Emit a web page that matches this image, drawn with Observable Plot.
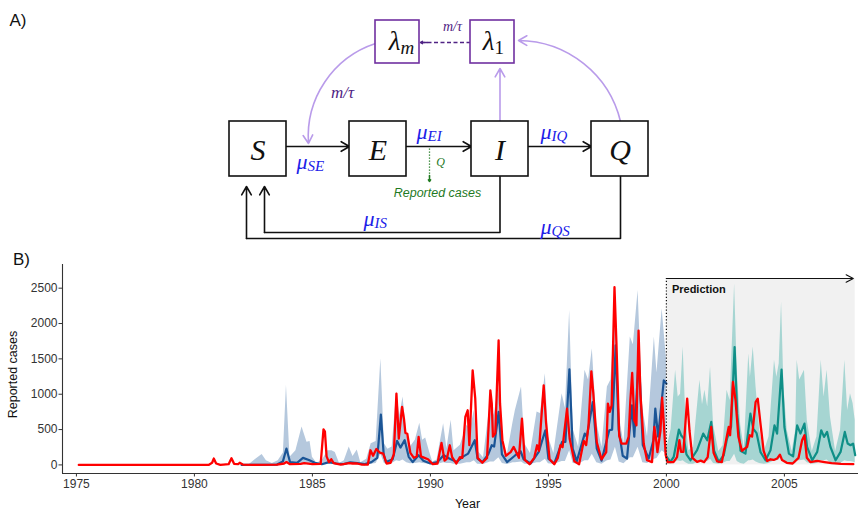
<!DOCTYPE html>
<html><head><meta charset="utf-8">
<script src="https://cdn.jsdelivr.net/npm/d3@7"></script>
<script src="https://cdn.jsdelivr.net/npm/@observablehq/plot@0.6"></script>
<style>
body{margin:0;background:#fff;}
#fig{width:858px;height:510px;}
#fig svg{display:block;}
</style></head><body><div id="fig"></div>
<script>
// ================= Panel A: model diagram content =================
const compartments = ["S", "E", "I", "Q"];
const lagStages = [{main: "λ", sub: "m"}, {main: "λ", sub: "1"}];
const rates = [
  {key: "SE", main: "μ", sub: "SE"},
  {key: "EI", main: "μ", sub: "EI"},
  {key: "IQ", main: "μ", sub: "IQ"},
  {key: "IS", main: "μ", sub: "IS"},
  {key: "QS", main: "μ", sub: "QS"}
];
const transferLabel = "m/τ";
const reportLabel = "Reported cases";
const reportRate = "Q";

// ================= Panel B: time series =================
const xTicks = [1975, 1980, 1985, 1990, 1995, 2000, 2005];
const yTicks = [0, 500, 1000, 1500, 2000, 2500];

// observed reported cases [year, cases]
const reported = [
[1975.1,0],[1980.6,0],[1980.75,30],[1980.82,90],[1980.92,20],[1981.1,0],[1981.45,10],[1981.57,95],[1981.68,15],[1981.85,10],[1981.92,30],[1982.05,5],[1982.5,0],[1983.5,5],[1983.8,20],[1983.9,40],[1984.05,10],[1984.5,15],[1984.65,25],[1985.0,10],[1985.35,15],[1985.42,300],[1985.47,504],[1985.53,470],[1985.6,120],[1985.7,40],[1985.8,80],[1985.9,25],[1986.2,5],[1986.55,25],[1986.7,20],[1986.9,20],[1987.1,5],[1987.35,5],[1987.46,207],[1987.57,130],[1987.71,226],[1987.85,175],[1988.0,160],[1988.14,20],[1988.31,30],[1988.45,150],[1988.56,1008],[1988.66,372],[1988.8,820],[1988.88,650],[1988.94,452],[1989.02,440],[1989.15,170],[1989.3,100],[1989.42,120],[1989.5,396],[1989.6,120],[1989.75,100],[1989.9,80],[1990.1,10],[1990.3,20],[1990.47,311],[1990.6,60],[1990.7,90],[1990.82,278],[1990.92,110],[1991.1,20],[1991.25,110],[1991.35,100],[1991.48,678],[1991.58,773],[1991.65,280],[1991.79,1337],[1991.9,937],[1992.0,100],[1992.2,30],[1992.4,100],[1992.54,1055],[1992.6,870],[1992.65,400],[1992.75,450],[1992.89,1761],[1992.95,870],[1993.05,350],[1993.2,130],[1993.4,180],[1993.53,254],[1993.75,100],[1993.88,655],[1994.0,70],[1994.2,10],[1994.4,100],[1994.52,278],[1994.6,200],[1994.8,1126],[1994.9,600],[1995.05,80],[1995.25,10],[1995.4,100],[1995.51,278],[1995.6,250],[1995.79,797],[1995.9,370],[1996.1,50],[1996.3,10],[1996.5,340],[1996.6,280],[1996.7,560],[1996.82,1323],[1996.9,1025],[1997.05,320],[1997.25,80],[1997.45,180],[1997.52,867],[1997.6,750],[1997.68,843],[1997.8,2514],[1997.88,1750],[1998.0,410],[1998.1,300],[1998.3,300],[1998.4,396],[1998.47,900],[1998.55,1300],[1998.64,630],[1998.73,560],[1998.82,1900],[1998.9,1000],[1999.04,300],[1999.18,66],[1999.39,40],[1999.49,537],[1999.55,400],[1999.62,180],[1999.75,490],[1999.82,950],[1999.9,530],[1999.97,140],[2000.05,40],[2000.3,40],[2000.45,110],[2000.55,349],[2000.62,184],[2000.72,184],[2000.88,937],[2000.98,480],[2001.1,100],[2001.3,43],[2001.45,60],[2001.6,40],[2001.75,110],[2001.9,537],[2002.0,170],[2002.15,50],[2002.35,40],[2002.57,420],[2002.64,537],[2002.7,420],[2002.82,1173],[2002.93,914],[2003.05,400],[2003.2,200],[2003.42,255],[2003.53,420],[2003.63,400],[2003.78,890],[2003.87,937],[2003.98,600],[2004.12,200],[2004.27,55],[2004.41,80],[2004.55,70],[2004.69,90],[2004.81,146],[2004.9,70],[2005.1,30],[2005.35,20],[2005.6,100],[2005.75,349],[2005.85,420],[2005.95,100],[2006.1,40],[2006.39,57],[2006.7,40],[2007.0,25],[2007.4,15],[2007.92,10]
];

// fitted model median [year, cases]
const fitMedian = [
[1982.0,0],[1983.5,5],[1983.75,50],[1983.9,231],[1984.05,40],[1984.35,30],[1984.6,100],[1984.85,70],[1985.1,30],[1985.4,10],[1985.7,40],[1986.0,20],[1986.3,10],[1986.6,35],[1986.9,25],[1987.2,10],[1987.5,40],[1987.75,100],[1987.9,712],[1988.02,150],[1988.12,40],[1988.4,80],[1988.59,340],[1988.73,245],[1988.91,350],[1989.08,114],[1989.25,40],[1989.5,137],[1989.7,60],[1990.0,20],[1990.3,40],[1990.56,137],[1990.8,90],[1991.1,43],[1991.4,120],[1991.6,160],[1991.88,349],[1992.0,90],[1992.2,40],[1992.45,150],[1992.6,278],[1992.7,260],[1992.89,749],[1993.03,150],[1993.25,40],[1993.6,137],[1993.82,193],[1993.95,80],[1994.25,20],[1994.59,184],[1994.87,490],[1995.0,90],[1995.25,20],[1995.58,325],[1995.72,325],[1995.89,1352],[1996.03,230],[1996.2,50],[1996.54,443],[1996.63,400],[1996.88,890],[1997.05,230],[1997.25,60],[1997.58,490],[1997.7,500],[1997.85,1691],[1997.98,500],[1998.15,130],[1998.33,90],[1998.54,843],[1998.64,400],[1998.83,1526],[1999.0,280],[1999.25,90],[1999.45,350],[1999.53,796],[1999.65,400],[1999.89,1196],[2000.0,1150]
];

// fitted model interval [year, lower, upper]
const fitBand = [
[1982.3,0,0],[1982.6,0,80],[1982.87,5,147],[1983.05,0,60],[1983.3,0,20],[1983.55,0,60],[1983.77,10,170],[1983.9,40,1126],[1984.05,10,110],[1984.3,5,200],[1984.56,20,537],[1984.77,15,320],[1984.9,10,330],[1985.0,5,110],[1985.2,0,20],[1985.45,0,80],[1985.65,5,200],[1985.83,5,200],[1985.97,5,175],[1986.15,0,20],[1986.35,0,60],[1986.56,5,254],[1986.72,5,120],[1986.9,5,210],[1987.05,0,30],[1987.3,0,80],[1987.49,10,300],[1987.7,20,330],[1987.9,150,1502],[1988.05,20,300],[1988.2,10,220],[1988.38,20,255],[1988.57,60,1040],[1988.7,50,700],[1988.84,70,960],[1989.0,30,420],[1989.15,15,255],[1989.36,20,349],[1989.55,30,590],[1989.67,20,349],[1989.8,15,380],[1989.97,5,180],[1990.1,0,40],[1990.28,5,70],[1990.56,30,584],[1990.7,20,230],[1990.88,20,631],[1991.0,10,200],[1991.27,10,278],[1991.55,30,561],[1991.7,30,500],[1991.86,60,773],[1992.0,10,200],[1992.25,5,100],[1992.54,40,890],[1992.7,40,700],[1992.9,100,1100],[1993.05,20,300],[1993.25,5,130],[1993.5,30,600],[1993.6,30,770],[1993.86,40,1102],[1994.0,10,300],[1994.24,5,160],[1994.52,30,749],[1994.66,30,726],[1994.87,80,1290],[1995.0,15,400],[1995.23,5,160],[1995.58,50,1008],[1995.72,50,800],[1995.9,200,2185],[1996.05,20,500],[1996.28,10,250],[1996.55,60,1338],[1996.7,60,1200],[1996.86,150,1644],[1997.05,30,600],[1997.27,10,250],[1997.5,60,1102],[1997.65,70,1200],[1997.84,250,2200],[1998.0,40,700],[1998.2,15,300],[1998.47,100,1808],[1998.6,100,1700],[1998.8,250,2467],[1999.0,30,800],[1999.2,20,400],[1999.49,80,1808],[1999.6,90,1300],[1999.82,200,2209],[2000.0,150,1500]
];

// predicted median [year, cases]
const predMedian = [
[2000.0,120],[2000.17,43],[2000.31,113],[2000.53,500],[2000.62,420],[2000.74,372],[2000.85,150],[2001.02,66],[2001.3,208],[2001.56,443],[2001.73,349],[2001.9,608],[2002.02,200],[2002.22,43],[2002.43,137],[2002.57,372],[2002.74,537],[2002.89,1667],[2003.0,725],[2003.14,200],[2003.35,160],[2003.49,537],[2003.56,725],[2003.68,514],[2003.82,450],[2003.99,180],[2004.2,66],[2004.41,208],[2004.58,560],[2004.69,443],[2004.88,1347],[2005.0,537],[2005.19,160],[2005.37,120],[2005.54,560],[2005.68,443],[2005.85,584],[2005.96,255],[2006.18,66],[2006.39,184],[2006.56,490],[2006.68,396],[2006.81,467],[2006.95,255],[2007.17,66],[2007.38,184],[2007.56,467],[2007.68,302],[2007.8,278],[2007.91,302],[2008.0,137]
];

// predicted interval [year, lower, upper]
const predBand = [
[2000.0,20,208],[2000.2,10,500],[2000.39,40,1338],[2000.5,60,961],[2000.6,50,1000],[2000.71,60,1667],[2000.82,30,700],[2000.95,10,200],[2001.15,10,250],[2001.42,50,1196],[2001.53,50,850],[2001.63,60,1055],[2001.75,50,820],[2001.87,80,1385],[2002.0,20,560],[2002.22,10,190],[2002.4,20,270],[2002.57,50,1055],[2002.7,50,910],[2002.89,150,2562],[2003.0,50,1338],[2003.15,20,560],[2003.3,10,230],[2003.49,60,1573],[2003.56,60,1240],[2003.68,70,1667],[2003.8,40,1100],[2003.95,20,490],[2004.15,10,190],[2004.35,20,400],[2004.58,60,1479],[2004.68,60,1240],[2004.78,70,1430],[2004.88,120,2303],[2004.98,50,1100],[2005.12,20,490],[2005.33,10,190],[2005.48,20,490],[2005.54,60,1479],[2005.65,60,1200],[2005.85,70,1338],[2005.97,30,630],[2006.18,10,190],[2006.38,20,400],[2006.56,60,1479],[2006.68,60,960],[2006.81,70,1338],[2006.95,30,680],[2007.17,10,190],[2007.38,20,490],[2007.56,60,1479],[2007.68,50,770],[2007.8,50,1008],[2007.91,40,870],[2008.0,30,631]
];

const predictionWindow = [{start: 2000, end: 2008, tip: 2007.92, top: 2637}];
const predictionText = "Prediction";

// ================= Panel A layout (pixel frame 858 x 245) =================
const LA = {
  boxW: 57, boxH: 55, boxY: 121,
  boxX: {S: 229, E: 349, I: 471, Q: 591},
  lamW: 44, lamH: 43, lamY: 20, lamX: [375, 470],
  lamJunction: [400, 494], lamTextY: 41,
  rateAt: {SE: [307, 161], EI: [427, 131], IQ: [551, 131], IS: [374, 218], QS: [551, 226]},
  flowY: 146
};
const serif = "Liberation Serif, Times New Roman, serif";
const sans = "Liberation Sans, Arial, Helvetica, sans-serif";
const purple = "#7030a0", lilac = "#b99bea", indigo = "#4f2384", muBlue = "#2020e8", green = "#1f7a1f";

const boxes = compartments.map(n => ({n, x1: LA.boxX[n], x2: LA.boxX[n] + LA.boxW, y1: LA.boxY, y2: LA.boxY + LA.boxH,
  cx: LA.boxX[n] + LA.boxW / 2, cy: LA.boxY + LA.boxH / 2 + 1.5}));
const lamBoxes = lagStages.map((d, i) => ({...d, x1: LA.lamX[i], x2: LA.lamX[i] + LA.lamW, y1: LA.lamY, y2: LA.lamY + LA.lamH,
  jx: LA.lamJunction[i], jy: LA.lamTextY}));
const rateLabels = rates.map(d => ({...d, jx: LA.rateAt[d.key][0], jy: LA.rateAt[d.key][1]}));
const bx = n => boxes.find(b => b.n === n);

const flowArrows = [["S","E"],["E","I"],["I","Q"]].map(([a, b]) => ({x1: bx(a).x2, x2: bx(b).x1, y1: LA.flowY, y2: LA.flowY}));
const returnPaths = [
  {id: "I", pts: [[bx("I").cx, bx("I").y2], [bx("I").cx, 232], [264, 232]]},
  {id: "Q", pts: [[bx("Q").cx + 0.5, bx("Q").y2], [bx("Q").cx + 0.5, 238], [246, 238]]}
].flatMap(p => p.pts.map(([x, y]) => ({id: p.id, x, y})));
const returnHeads = [{x1: 264, y1: 232, x2: 264, y2: 186}, {x1: 246, y1: 238, x2: 246, y2: 186}];
const feedStraight = [{x1: bx("I").cx, y1: bx("I").y1, x2: bx("I").cx, y2: 68}];
const feedCurves = [
  {x1: lamBoxes[0].x1, y1: 43, x2: 308, y2: 143},
  {x1: bx("Q").cx + 0.5, y1: bx("Q").y1, x2: 518, y2: 40}
];

const chartA = Plot.plot({
  width: 858, height: 245, margin: 0,
  x: {domain: [0, 858], range: [0, 858]},
  y: {domain: [0, 245], range: [0, 245]},
  axis: null,
  style: {background: "white", overflow: "visible"},
  marks: [
    Plot.text(["A)"], {x: 9, y: 20, text: d => d, textAnchor: "start", fontSize: 17, fontFamily: sans, fill: "#111"}),
    // return flows
    Plot.line(returnPaths, {x: "x", y: "y", z: "id", stroke: "#111", strokeWidth: 1.6}),
    Plot.arrow(returnHeads, {x1: "x1", y1: "y1", x2: "x2", y2: "y2", stroke: "#111", strokeWidth: 1.6, headLength: 9}),
    // forward flows
    Plot.arrow(flowArrows, {x1: "x1", y1: "y1", x2: "x2", y2: "y2", stroke: "#111", strokeWidth: 1.6, headLength: 9}),
    // feedback to lag stages
    Plot.arrow(feedStraight, {x1: "x1", y1: "y1", x2: "x2", y2: "y2", stroke: lilac, strokeWidth: 1.6, headLength: 9}),
    Plot.arrow(feedCurves, {x1: "x1", y1: "y1", x2: "x2", y2: "y2", bend: -38, stroke: lilac, strokeWidth: 1.6, headLength: 9}),
    // dashed transfer between lag stages
    Plot.link([{x1: lamBoxes[1].x1, x2: lamBoxes[0].x2 + 5}], {x1: "x1", x2: "x2", y1: () => 42, y2: () => 42, stroke: indigo, strokeWidth: 1.5, strokeDasharray: "4,2.5"}),
    Plot.arrow([{x1: lamBoxes[0].x2 + 8, x2: lamBoxes[0].x2 + 1}], {x1: "x1", x2: "x2", y1: () => 42, y2: () => 42, stroke: indigo, strokeWidth: 1.5, headLength: 6}),
    // reporting
    Plot.link([{x: 429}], {x1: "x", x2: "x", y1: () => 148, y2: () => 176, stroke: green, strokeWidth: 1.3, strokeDasharray: "1.3,1.7"}),
    Plot.arrow([{x: 429}], {x1: "x", x2: "x", y1: () => 175, y2: () => 181, stroke: green, strokeWidth: 1.5, headLength: 5, headAngle: 70}),
    // boxes
    Plot.rect(boxes, {x1: "x1", x2: "x2", y1: "y1", y2: "y2", fill: "white", stroke: "#111", strokeWidth: 1.6}),
    Plot.rect(lamBoxes, {x1: "x1", x2: "x2", y1: "y1", y2: "y2", fill: "white", stroke: purple, strokeWidth: 1.6}),
    Plot.text(boxes, {x: "cx", y: "cy", text: "n", fontSize: 30, fontStyle: "italic", fontFamily: serif, fill: "#111"}),
    Plot.text(lamBoxes, {x: "jx", y: "jy", text: "main", textAnchor: "end", fontSize: 27, fontStyle: "italic", fontFamily: serif, fill: "#111"}),
    Plot.text(lamBoxes.filter(d => isNaN(+d.sub)), {x: "jx", y: "jy", text: "sub", textAnchor: "start", dy: 6, fontSize: 19, fontStyle: "italic", fontFamily: serif, fill: "#111"}),
    Plot.text(lamBoxes.filter(d => !isNaN(+d.sub)), {x: "jx", y: "jy", text: "sub", textAnchor: "start", dy: 6, fontSize: 19, fontFamily: serif, fill: "#111"}),
    // rate labels
    Plot.text(rateLabels, {x: "jx", y: "jy", text: "main", textAnchor: "end", fontSize: 22, fontStyle: "italic", fontFamily: serif, fill: muBlue}),
    Plot.text(rateLabels, {x: "jx", y: "jy", text: "sub", textAnchor: "start", dy: 5, fontSize: 15, fontStyle: "italic", fontFamily: serif, fill: muBlue}),
    Plot.text([transferLabel], {x: 342, y: 92, text: d => d, fontSize: 17, fontStyle: "italic", fontFamily: serif, fill: indigo}),
    Plot.text([transferLabel], {x: 452, y: 26, text: d => d, fontSize: 14, fontStyle: "italic", fontFamily: serif, fill: indigo}),
    Plot.text([reportRate], {x: 440, y: 162, text: d => d, fontSize: 12, fontStyle: "italic", fontFamily: serif, fill: green}),
    Plot.text([reportLabel], {x: 437, y: 192, text: d => d, fontSize: 12.5, fontStyle: "italic", fontFamily: sans, fill: green})
  ]
});

// ================= Panel B chart =================
const xDom = [1974.41, 2008.14], yDom = [-121.5, 2835];
const chartB = Plot.plot({
  width: 858, height: 265,
  marginLeft: 62, marginRight: 0, marginTop: 19, marginBottom: 37,
  x: {domain: xDom},
  y: {domain: yDom},
  style: {background: "white", overflow: "visible", fontFamily: sans},
  marks: [
    Plot.rect(predictionWindow, {x1: "start", x2: "end", y1: () => 0, y2: "top", fill: "#f1f1f1"}),
    Plot.areaY(fitBand, {x: d => d[0], y1: d => d[1], y2: d => d[2], fill: "#b5c8dd"}),
    Plot.areaY(predBand, {x: d => d[0], y1: d => d[1], y2: d => d[2], fill: "#a6d5d2"}),
    Plot.line(fitMedian, {x: d => d[0], y: d => d[1], stroke: "#1b5596", strokeWidth: 2.2}),
    Plot.line(predMedian, {x: d => d[0], y: d => d[1], stroke: "#0f8f87", strokeWidth: 2.2}),
    Plot.line(reported, {x: d => d[0], y: d => d[1], stroke: "#ff0000", strokeWidth: 2.3}),
    Plot.ruleX(predictionWindow, {x: "start", y1: () => 0, y2: "top", stroke: "#111", strokeWidth: 1.2, strokeDasharray: "1.2,2"}),
    Plot.arrow(predictionWindow, {x1: "start", x2: "tip", y1: "top", y2: "top", stroke: "#111", strokeWidth: 1.1, headLength: 11, headAngle: 55}),
    Plot.text(predictionWindow, {x: "start", y: () => 2482, text: () => predictionText, textAnchor: "start", dx: 5.5, fontSize: 11, fontWeight: "bold", fill: "#111"}),
    Plot.ruleY([yDom[0]], {stroke: "#333", strokeWidth: 1.1}),
    Plot.ruleX([xDom[0]], {stroke: "#333", strokeWidth: 1.1}),
    Plot.axisX({ticks: xTicks, tickSize: 3.5, tickFormat: () => "", color: "#333", label: null}),
    Plot.axisY({ticks: yTicks, tickSize: 3.5, tickFormat: () => "", color: "#333", label: null}),
    Plot.text(xTicks, {x: d => d, frameAnchor: "bottom", text: d => String(d), lineAnchor: "middle", dy: 11, fontSize: 12, fill: "#333"}),
    Plot.text(yTicks, {y: d => d, frameAnchor: "left", text: d => String(d), textAnchor: "end", lineAnchor: "middle", dx: -5, fontSize: 12, fill: "#333"}),
    Plot.text(["Year"], {frameAnchor: "bottom", text: d => d, lineAnchor: "middle", dx: 7, dy: 30, fontSize: 12.5, fill: "#111"}),
    Plot.text(["Reported cases"], {frameAnchor: "left", text: d => d, textAnchor: "middle", lineAnchor: "middle", rotate: -90, dx: -50, dy: 5.5, fontSize: 12.5, fill: "#111"}),
    Plot.text(["B)"], {frameAnchor: "top-left", text: d => d, textAnchor: "start", lineAnchor: "middle", dx: -49.5, dy: -5, fontSize: 17, fill: "#111"})
  ]
});

const fig = document.getElementById("fig");
fig.appendChild(chartA);
fig.appendChild(chartB);
</script>
</body></html>
